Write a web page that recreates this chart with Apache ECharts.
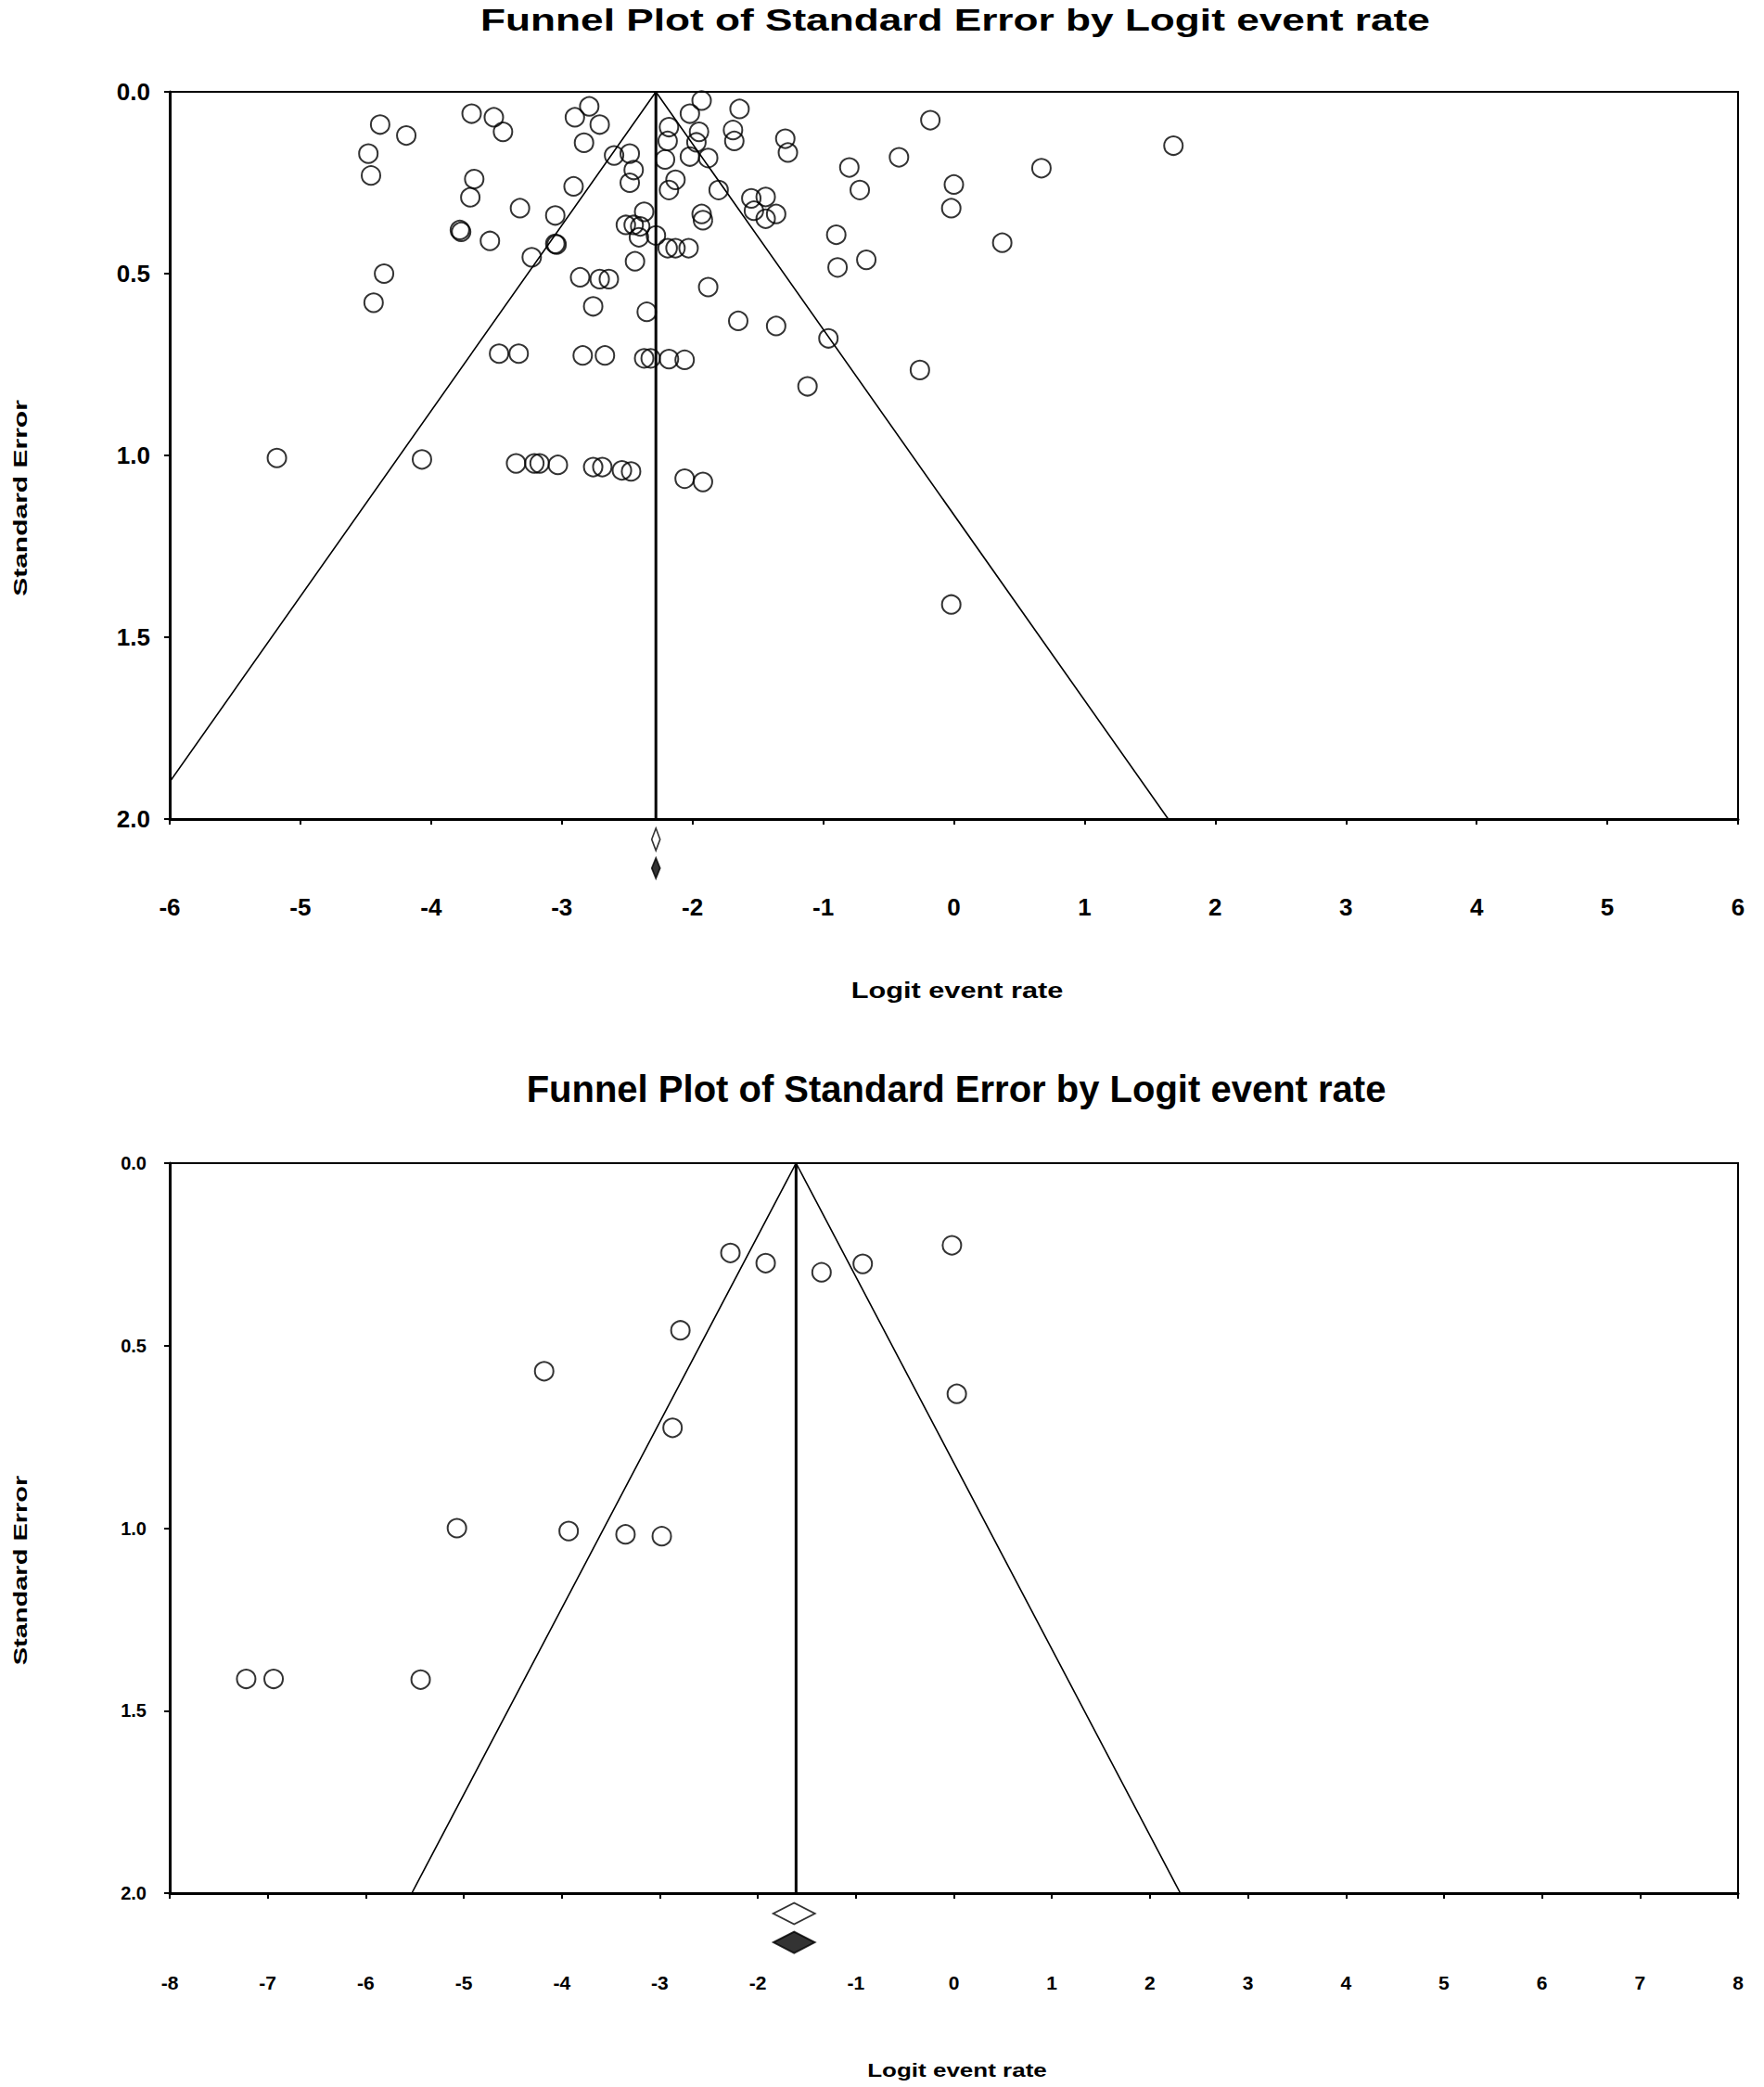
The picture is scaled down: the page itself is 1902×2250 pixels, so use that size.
<!DOCTYPE html>
<html>
<head>
<meta charset="utf-8">
<script src="https://cdn.jsdelivr.net/npm/echarts@6/dist/echarts.min.js"></script>
<style>
  html, body { margin: 0; padding: 0; background: #fff; }
  #chart { width: 1902px; height: 2250px; }
</style>
</head>
<body>
<div id="chart"></div>
<script>
// upper funnel plot: logit event rate (x) vs standard error (y)
var topLogit = [-4.39, -4.19, -4.48, -4.46, -3.69, -3.52, -3.45, -2.90, -2.79, -2.71,
  -2.83, -3.67, -3.70, -3.32, -2.91, -3.05, -3.78, -3.77, -3.55, -3.04,
  -3.05, -3.23, -4.36, -4.44, -2.86, -2.71, -2.64, -2.76, -3.48, -3.33,
  -2.84, -2.67, -2.60, -2.48, -2.45, -2.48, -2.37, -2.51, -2.45, -2.40,
  -2.41, -2.28, -2.19, -2.13, -2.03, -2.44, -2.35, -2.37, -2.32, -2.18,
  -2.06, -2.18, -2.19, -2.21, -2.13, -2.18, -2.02, -1.93, -1.95, -1.97,
  -2.02, -1.88, -1.80, -1.93, -1.92, -1.64, -1.69, -1.68, -1.29, -1.27,
  -1.55, -1.44, -1.53, -1.44, -1.36, -1.88, -1.65, -1.36, -0.96, -0.18,
  -0.42, -0.80, -0.72, 0.00, -0.02, 0.67, 1.68, 0.37, -0.90, -0.67,
  -0.89, -0.26, -1.12, -0.02, -5.18, -4.07, -3.35, -3.21, -3.17, -3.03,
  -2.76, -2.69, -2.54, -2.47, -2.06, -1.92];
var topSE = [0.09, 0.12, 0.17, 0.23, 0.06, 0.07, 0.11, 0.07, 0.04, 0.09,
  0.14, 0.24, 0.29, 0.32, 0.26, 0.34, 0.38, 0.385, 0.41, 0.42,
  0.418, 0.455, 0.50, 0.58, 0.51, 0.515, 0.515, 0.59, 0.72, 0.72,
  0.725, 0.725, 0.175, 0.17, 0.215, 0.25, 0.33, 0.366, 0.366, 0.37,
  0.40, 0.395, 0.43, 0.43, 0.43, 0.466, 0.605, 0.733, 0.733, 0.735,
  0.737, 0.097, 0.135, 0.186, 0.242, 0.27, 0.06, 0.024, 0.11, 0.139,
  0.178, 0.182, 0.27, 0.336, 0.353, 0.047, 0.105, 0.135, 0.129, 0.167,
  0.293, 0.289, 0.327, 0.349, 0.336, 0.537, 0.63, 0.644, 0.678, 0.078,
  0.18, 0.208, 0.27, 0.255, 0.32, 0.21, 0.148, 0.415, 0.393, 0.462,
  0.483, 0.765, 0.81, 1.41, 1.007, 1.011, 1.022, 1.022, 1.022, 1.026,
  1.032, 1.032, 1.041, 1.044, 1.064, 1.073];
var topMean = -2.28;
var topFunnelX = [-6.20, -2.28, 1.64];
var topDiamondX = [-2.28, -2.28];
var topRange = [-6, 6];

// lower funnel plot
var bottomLogit = [-2.28, -1.92, -1.35, -0.93, -0.02, -2.79, 0.03, -2.87, -3.93, -3.35,
  -2.98, -5.07, -7.22, -6.94, -5.44, -4.18];
var bottomSE = [0.246, 0.274, 0.299, 0.276, 0.225, 0.458, 0.632, 0.725, 1.008, 1.017,
  1.022, 1.000, 1.413, 1.413, 1.415, 0.57];
var bottomMean = -1.61;
var bottomFunnelX = [-5.53, -1.61, 2.31];
var bottomDiamondX = [-1.63, -1.63];
var bottomRange = [-8, 8];

// shared
var funnelSE = [2, 0, 2];
var diamondSE = [2.056, 2.135];
var seTicks = [0, 0.5, 1, 1.5, 2];

function pairs(xs, ys) {
  return xs.map(function (x, i) { return [x, ys[i]]; });
}

var FONT = '"Liberation Sans", Arial, sans-serif';

function xAxisFor(idx, range, size, margin) {
  return {
    type: 'value', gridIndex: idx, position: 'bottom',
    min: range[0], max: range[1], interval: 1,
    splitLine: { show: false },
    axisLine: { onZero: false, lineStyle: { color: '#000', width: 3 } },
    axisTick: { length: 6, lineStyle: { color: '#000', width: 2 } },
    axisLabel: { color: '#000', fontSize: size, fontWeight: 'bold', fontFamily: FONT, margin: margin }
  };
}
function yAxisFor(idx, size, margin) {
  return {
    type: 'value', gridIndex: idx, inverse: true,
    min: seTicks[0], max: seTicks[seTicks.length - 1], interval: seTicks[1] - seTicks[0],
    splitLine: { show: false },
    axisLine: { onZero: false, lineStyle: { color: '#000', width: 3 } },
    axisTick: { length: 6, lineStyle: { color: '#000', width: 2 } },
    axisLabel: {
      color: '#000', fontSize: size, fontWeight: 'bold', fontFamily: FONT, margin: margin,
      formatter: function (v) { return v.toFixed(1); }
    }
  };
}

function studies(idx, xs, ys) {
  return {
    type: 'scatter', xAxisIndex: idx, yAxisIndex: idx,
    data: pairs(xs, ys), symbol: 'circle', symbolSize: 20,
    itemStyle: { color: 'rgba(0,0,0,0)', borderColor: '#000', borderWidth: 2 },
    silent: true
  };
}
function funnel(idx, xs) {
  return {
    type: 'line', xAxisIndex: idx, yAxisIndex: idx,
    data: pairs(xs, funnelSE), symbol: 'none', clip: true,
    lineStyle: { color: '#000', width: 1.6 }, silent: true
  };
}
function meanLine(idx, m) {
  return {
    type: 'line', xAxisIndex: idx, yAxisIndex: idx,
    data: [[m, seTicks[0]], [m, seTicks[seTicks.length - 1]]], symbol: 'none',
    lineStyle: { color: '#000', width: 3 }, silent: true
  };
}
function diamond(idx, x, y, size, filled) {
  return {
    type: 'scatter', xAxisIndex: idx, yAxisIndex: idx, clip: false,
    data: [[x, y]], symbol: 'diamond', symbolSize: size,
    itemStyle: { color: filled ? '#000' : '#fff', borderColor: '#000', borderWidth: 2 },
    silent: true
  };
}

function label(text, x, y, font, sx, rot) {
  return {
    type: 'text', x: x, y: y, scaleX: sx || 1, rotation: rot || 0,
    style: { text: text, font: font, fill: '#000', textAlign: 'center', textVerticalAlign: 'middle' }
  };
}

var chart = echarts.init(document.getElementById('chart'), null, { renderer: 'svg' });
chart.setOption({
  backgroundColor: '#fff',
  animation: false,
  grid: [
    { left: 183, top: 99, width: 1691, height: 784, show: true, borderColor: '#000', borderWidth: 2 },
    { left: 183, top: 1254, width: 1691, height: 787, show: true, borderColor: '#000', borderWidth: 2 }
  ],
  xAxis: [xAxisFor(0, topRange, 26, 82), xAxisFor(1, bottomRange, 21, 86)],
  yAxis: [yAxisFor(0, 26, 21), yAxisFor(1, 20, 25)],
  series: [
    funnel(0, topFunnelX),
    meanLine(0, topMean),
    studies(0, topLogit, topSE),
    diamond(0, topDiamondX[0], diamondSE[0], [9, 24], false),
    diamond(0, topDiamondX[1], diamondSE[1], [9, 22], true),
    funnel(1, bottomFunnelX),
    meanLine(1, bottomMean),
    studies(1, bottomLogit, bottomSE),
    diamond(1, bottomDiamondX[0], diamondSE[0], [45, 23], false),
    diamond(1, bottomDiamondX[1], diamondSE[1], [45, 23], true)
  ],
  graphic: [
    label('Funnel Plot of Standard Error by Logit event rate', 1030, 21, 'bold 34px ' + FONT, 1.3),
    label('Logit event rate', 1032, 1068, 'bold 24px ' + FONT, 1.28),
    label('Standard Error', 22, 537, 'bold 20px ' + FONT, 1.5, Math.PI / 2),
    label('Funnel Plot of Standard Error by Logit event rate', 1031, 1174, 'bold 40px ' + FONT, 1),
    label('Logit event rate', 1032, 2232, 'bold 20px ' + FONT, 1.3),
    label('Standard Error', 22, 1693, 'bold 20px ' + FONT, 1.45, Math.PI / 2)
  ]
});
</script>
</body>
</html>
